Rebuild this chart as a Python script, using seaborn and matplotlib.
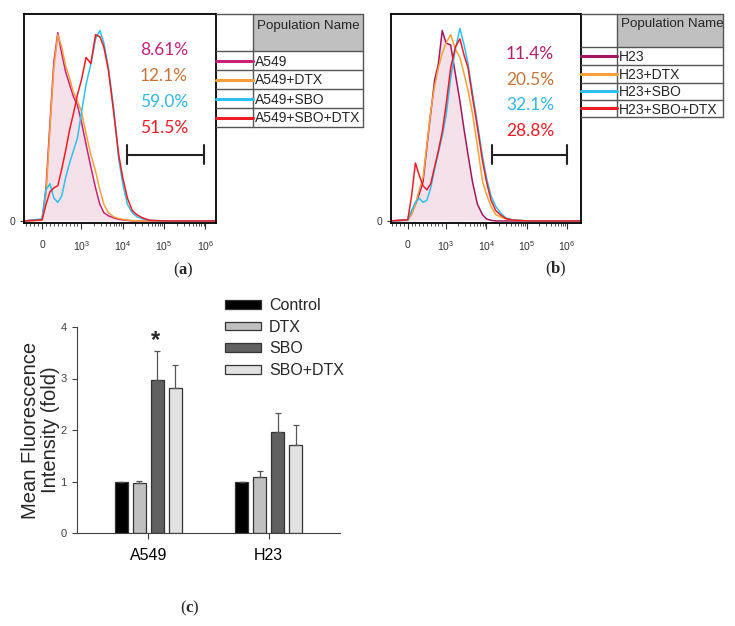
import numpy as np
import pandas as pd
import seaborn as sns
import matplotlib
matplotlib.use('Agg')
import matplotlib.pyplot as plt

# --- (a)/(b) flow histograms, height in % of the plot ---
fl_x = [-460, 0, 100, 200, 300, 400, 500, 600, 700, 800, 900, 1000, 1300, 1700,
        2200, 2800, 3500, 4500, 6000, 8000, 10000, 13000, 17000, 22000, 30000,
        45000, 100000, 2200000]

a549_ctrl = [0, 0.5, 16, 47, 77, 91, 81, 72, 66, 60, 56, 48, 37, 26, 16, 8, 4, 2.5,
             1.5, 0.8, 0.5, 0.3, 0, 0, 0, 0, 0, 0]
a549_dtx = [0, 0.3, 13, 44, 74, 90, 84, 75, 69, 62, 58, 53, 42, 32, 24, 15, 8, 4,
            2, 1.2, 0.8, 0.4, 0.2, 0, 0, 0, 0, 0]
a549_sbo = [0, 1, 15, 18, 11, 9, 12, 21, 28, 34, 40, 52, 66, 76, 88, 92, 86, 74,
            55, 30, 18, 8, 4, 2, 1, 0.3, 0, 0]
a549_combo = [0, 0.5, 8, 14, 16, 17, 25, 34, 44, 52, 61, 68, 79, 76, 90, 89, 84, 73,
              53, 32, 21, 11, 5, 3, 1.5, 0.3, 0, 0]

h23_ctrl = [0, 0.5, 4, 8, 13, 19, 36, 52, 68, 76, 92, 86, 85, 71, 58, 44, 32, 19,
            8, 3, 1, 0.3, 0, 0, 0, 0, 0, 0]
h23_dtx = [0, 0.3, 3, 8, 15, 21, 37, 53, 65, 74, 81, 86, 90, 83, 79, 71, 63, 52,
           36, 19, 13, 7, 3, 2, 1, 0.5, 0, 0]
h23_sbo = [0, 0.3, 5, 9, 11, 9, 10, 16, 25, 33, 41, 51, 69, 83, 93, 85, 76, 62,
           47, 31, 21, 12, 7, 4, 1.5, 0.5, 0, 0]
h23_combo = [0, 0.5, 12, 28, 22, 17, 15, 18, 26, 34, 43, 56, 74, 84, 88, 80, 74, 60,
             45, 29, 19, 10, 5, 3, 1.2, 0.4, 0, 0]

a549_names = ['A549', 'A549+DTX', 'A549+SBO', 'A549+SBO+DTX']
a549_pct = ['8.61%', '12.1%', '59.0%', '51.5%']
h23_names = ['H23', 'H23+DTX', 'H23+SBO', 'H23+SBO+DTX']
h23_pct = ['11.4%', '20.5%', '32.1%', '28.8%']
gate_a = [12800, 920000]
gate_b = [14000, 1000000]

# --- (c) mean fluorescence intensity ---
cells = ['A549', 'H23']
treatments = ['Control', 'DTX', 'SBO', 'SBO+DTX']
mfi_a549 = [1.0, 0.965, 2.98, 2.81]
mfi_h23 = [1.0, 1.09, 1.955, 1.71]
err_a549 = [0, 0.05, 0.55, 0.45]
err_h23 = [0, 0.11, 0.375, 0.38]

sns.set_theme(style='white')
plt.rcParams['font.family'] = ['Liberation Sans', 'DejaVu Sans']
plt.rcParams['mathtext.fontset'] = 'custom'
plt.rcParams['mathtext.rm'] = 'Liberation Sans'
plt.rcParams['mathtext.bf'] = 'Liberation Serif:bold'

W, H = 735, 626
fig = plt.figure(figsize=(W / 100, H / 100), dpi=100)


def rect(x0, y0, x1, y1):
    return [x0 / W, 1 - y1 / H, (x1 - x0) / W, (y1 - y0) / H]


line_cols_a = ['#cc1f78', '#f7a03a', '#2fc0ef', '#ee1c25']
line_cols_b = ['#a3185c', '#f7a03a', '#2fc0ef', '#ee1c25']
pct_cols_a = ['#c4237d', '#c8733a', '#33b6e8', '#ee1c25']
pct_cols_b = ['#b01f6c', '#c8733a', '#33b6e8', '#ee1c25']


def draw_hist(box, curves, cols, pct, pct_cols, xlim, gate, pct_pos):
    ax = fig.add_axes(rect(*box))
    ax.set_xscale('symlog', linthresh=1000, linscale=0.855)
    ax.fill_between(fl_x, curves[0], color='#f5e1ea', lw=0)
    for c, col in zip(curves, cols):
        sns.lineplot(x=fl_x, y=c, ax=ax, color=col, lw=1.1, estimator=None, sort=False)
    ax.set_xlim(*xlim)
    ax.set_ylim(-1, 100)
    for s in ax.spines.values():
        s.set_color('black')
        s.set_linewidth(1.3)
    major = [0, 1e3, 1e4, 1e5, 1e6]
    ax.set_xticks(major)
    ax.set_xticklabels(['0'] + [r'$\mathregular{10^%d}$' % d for d in (3, 4, 5, 6)])
    minor = list(range(-400, 1000, 100)) + [k * 10 ** d for d in (3, 4, 5) for k in range(2, 10)]
    ax.set_xticks(minor, minor=True)
    ax.set_yticks([0])
    ax.set_yticklabels(['0'])
    ax.tick_params(axis='x', which='major', direction='out', length=4, width=0.8,
                   labelsize=7.5, pad=8, colors='#333333', bottom=True)
    ax.tick_params(axis='x', which='minor', direction='out', length=2.5, width=0.6,
                   colors='#333333', bottom=True)
    ax.tick_params(axis='y', direction='out', length=3, width=0.8, labelsize=7.5,
                   pad=3, colors='#333333', left=True)
    # gate marker
    ax.plot(gate, [32, 32], color='#222222', lw=1.5)
    for g in gate:
        ax.plot([g, g], [27.5, 36.5], color='#222222', lw=1.5)
    for i, (t, col) in enumerate(zip(pct, pct_cols)):
        ax.text(pct_pos[0], pct_pos[1] - i * pct_pos[2], t, transform=ax.transAxes,
                ha='center', va='center', color=col, fontsize=12.5, family='Lato')
    ax.set_xlabel('')
    ax.set_ylabel('')
    return ax


def draw_table(x0, y0, xs, x1, row_y, names, cols, head_y):
    tb = fig.add_axes(rect(x0, y0, x1, row_y[-1]))
    tb.set_xlim(x0, x1)
    tb.set_ylim(row_y[-1], y0)
    tb.axis('off')
    tb.fill_between([xs, x1], y0, row_y[0], color='#c0c0c0', lw=0)
    lc = '#555555'
    tb.plot([x0, x1], [y0, y0], color=lc, lw=1, clip_on=False)
    for y in row_y:
        tb.plot([x0, x1], [y, y], color=lc, lw=1, clip_on=False)
    tb.plot([xs, xs], [y0, row_y[-1]], color=lc, lw=1, clip_on=False)
    tb.plot([x1, x1], [y0, row_y[-1]], color=lc, lw=1, clip_on=False)
    tb.text(xs + 4, head_y, 'Population Name', ha='left', va='center', fontsize=9.6)
    for i, (n, col) in enumerate(zip(names, cols)):
        yc = (row_y[i] + row_y[i + 1]) / 2
        tb.plot([x0, xs], [yc, yc], color=col, lw=2.2, clip_on=False)
        tb.text(xs + 2, yc + 1, n, ha='left', va='center', fontsize=10)


draw_hist((24, 14, 216, 223), [a549_ctrl, a549_dtx, a549_sbo, a549_combo],
          line_cols_a, a549_pct, pct_cols_a, (-460, 1.8e6), gate_a, (0.729, 0.828, 0.125))
draw_table(216, 14, 253, 363, [51, 70, 89, 108, 127], a549_names, line_cols_a, 26)

draw_hist((391, 14, 581, 223), [h23_ctrl, h23_dtx, h23_sbo, h23_combo],
          line_cols_b, h23_pct, pct_cols_b, (-436, 2.2e6), gate_b, (0.732, 0.809, 0.123))
draw_table(581, 14, 617, 723, [47, 65, 83, 100, 117], h23_names, line_cols_b, 24)

# --- (c) bar chart ---
df = pd.DataFrame({
    'cell': [c for c in cells for _ in treatments],
    'treatment': treatments * len(cells),
    'mfi': mfi_a549 + mfi_h23,
    'err': err_a549 + err_h23,
})
bar_colors = ['#000000', '#c0c0c0', '#606060', '#e2e2e2']

axc = fig.add_axes(rect(77, 327, 340, 533))
sns.barplot(data=df, x='cell', y='mfi', hue='treatment', palette=bar_colors,
            width=0.6, gap=0.28, edgecolor='#333333', linewidth=0.9,
            errorbar=None, ax=axc)
for t, cont in zip(treatments, axc.containers):
    sub = df[df['treatment'] == t]
    xs = [b.get_x() + b.get_width() / 2 for b in cont]
    axc.errorbar(xs, sub['mfi'], yerr=[np.zeros(len(sub)), sub['err']], fmt='none',
                 ecolor='#555555', elinewidth=0.9, capsize=2.5, capthick=0.9, zorder=1)
axc.text(0.06, 3.74, '*', ha='center', va='center', fontsize=17, fontweight='bold')
axc.set_ylim(0, 4)
axc.set_xlim(-0.595, 1.595)
axc.set_yticks([0, 1, 2, 3, 4])
sns.despine(ax=axc)
for s in ('left', 'bottom'):
    axc.spines[s].set_color('#404040')
    axc.spines[s].set_linewidth(0.8)
axc.tick_params(axis='y', direction='out', length=3.5, width=0.8, labelsize=8,
                colors='#404040', left=True, pad=4)
axc.tick_params(axis='x', direction='out', length=4, width=0.8, labelsize=11.5,
                colors='#404040', bottom=True, pad=7)
for lab in axc.get_xticklabels():
    lab.set_color('black')
axc.set_xlabel('')
axc.set_ylabel('Mean Fluorescence\nIntensity (fold)', fontsize=14.5, linespacing=1.1)
axc.yaxis.set_label_coords(-0.063, 0.5)
handles, labels = axc.get_legend_handles_labels()
axc.legend(handles, labels, loc='upper left', bbox_to_anchor=(225 / W, 1 - 298 / H),
           bbox_transform=fig.transFigure, frameon=False, fontsize=11.5,
           handlelength=2.25, handleheight=0.45, labelspacing=0.42,
           handletextpad=0.5, borderpad=0, borderaxespad=0)

for x, y, letter in [(183, 270, 'a'), (556, 269, 'b'), (190, 608, 'c')]:
    fig.text(x / W, 1 - y / H, r'($\mathbf{%s}$)' % letter, ha='center', va='center',
             fontsize=12, family='Liberation Serif')

fig.savefig('out.png', dpi=100)
